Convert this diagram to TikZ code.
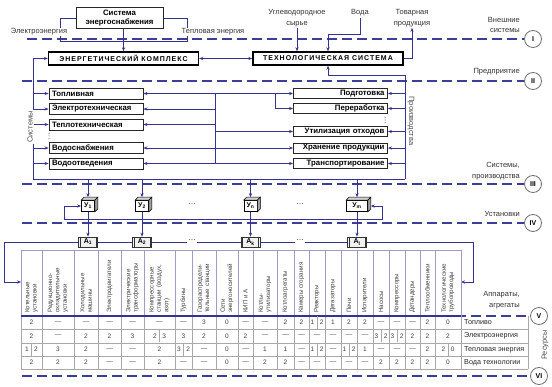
\documentclass[tikz,border=0pt]{standalone}
\usepackage{fontspec}
\setmainfont{Liberation Sans}
\newfontfamily\capsfont[LetterSpace=14]{Liberation Sans}
\usetikzlibrary{arrows.meta,positioning,calc}
\definecolor{flowblue}{HTML}{34348F}
\definecolor{levblue}{HTML}{3C3C9A}
\definecolor{ringgrey}{HTML}{707070}
\definecolor{gridgrey}{HTML}{A8A8A8}
\definecolor{hdrline}{HTML}{9C9CC4}
\definecolor{txtgrey}{HTML}{404040}

\begin{document}
\begin{tikzpicture}[x=1pt, y=-1pt,
  font=\fontsize{7.5}{10.5}\selectfont,
  flow/.style={draw=flowblue, line width=0.9pt},
  arr/.style={flow, -{Stealth[length=4pt, width=3.2pt]}},
  darr/.style={flow, {Stealth[length=4pt, width=3.2pt]}-{Stealth[length=4pt, width=3.2pt]}},
  lvl/.style={draw=levblue, line width=1.2pt, dash pattern=on 10pt off 5pt},
  ring/.style={circle, draw=ringgrey, line width=0.8pt, fill=white, minimum size=17pt,
               inner sep=0pt, font=\bfseries\fontsize{7}{8}\selectfont},
  lbl/.style={text=black!80, inner sep=1pt, align=center},
  lvllbl/.style={text=black!80, inner sep=1pt, align=right, anchor=east},
  supbox/.style={draw=black!85, line width=1pt, fill=white, minimum width=87pt,
                 minimum height=21pt, align=center, inner sep=1pt,
                 font=\bfseries\fontsize{7.8}{9.5}\selectfont},
  bigbox/.style={draw=black, line width=1.4pt, fill=white, minimum width=150pt,
                 minimum height=13pt, inner sep=0pt,
                 font=\capsfont\bfseries\fontsize{7}{8}\selectfont},
  sysbox/.style={draw=black!85, line width=0.9pt, fill=white, minimum width=94pt,
                 minimum height=11pt, text width=88pt, align=left, inner xsep=3pt,
                 inner ysep=0pt, font=\bfseries\fontsize{7.8}{9}\selectfont},
  prodbox/.style={sysbox, minimum height=10pt, align=right},
  unitbox/.style={draw=black, line width=0.7pt, fill=white, minimum width=13pt,
                  minimum height=11pt, inner sep=0pt, font=\bfseries\fontsize{7}{8}\selectfont},
  agrbox/.style={draw=black!80, line width=0.7pt, fill=gray!12, minimum width=19pt,
                 minimum height=10pt, inner sep=0pt, font=\bfseries\fontsize{7}{8}\selectfont},
  hdr/.style={rotate=90, anchor=west, align=left, inner sep=0pt, text=txtgrey,
              font=\fontsize{6.2}{7.4}\selectfont},
  val/.style={inner sep=0pt, text=txtgrey, font=\fontsize{6.5}{7}\selectfont},
  res/.style={anchor=west, inner sep=0pt, text=black!85, font=\fontsize{7.2}{8}\selectfont},
  vdot/.style={fill=black!80},
]

\def\dcell#1#2{#1\hspace{2.4pt}{\color{gridgrey}\vrule width 0.7pt height 9pt depth 4pt}\hspace{2.4pt}#2}
\def\nodat{\textemdash}

\useasboundingbox (0,0) rectangle (552,387);

% ---------------- levels I--VI ---------------------------------------
\foreach \i/\num/\xs/\yy/\xr in {1/I/27/39/533, 2/II/22/81/533, 3/III/22/184/533,
                                 4/IV/22/223/533, 5/V/21/316/539, 6/VI/22/376/539}{
  \coordinate (lv\i) at (\xs,\yy);
  \node[ring] (ring\i) at (\xr,\yy) {\num};
  \draw[lvl] (lv\i) -- (ring\i);
}
\node[lvllbl] (extlbl) at (521,25)  {Внешние\\системы};
\node[lvllbl] (entlbl) at (521,72)  {Предприятие};
\node[lvllbl] (sprlbl) at (521,171) {Системы,\\производства};
\node[lvllbl] (unilbl) at (521,214) {Установки};
\node[lvllbl] (aprlbl) at (521,300) {Аппараты,\\агрегаты};

% ---------------- external supply and the two complexes --------------
\node[supbox] (ses) at (119.5,18) {Система\\энергоснабжения};
\node[bigbox] (ek) at (123.5,58.5) {ЭНЕРГЕТИЧЕСКИЙ КОМПЛЕКС};
\node[bigbox] (ts) at (328,58.5) {ТЕХНОЛОГИЧЕСКАЯ СИСТЕМА};

\coordinate (sj) at ($(ek.north)+(0,-10)$);
\draw[flow] (ses.south -| sj) -- (sj);
\draw[flow] (ses.west) -- ++(-15,0) |- (sj);
\draw[flow] (ses.east) -- ++(24,0) |- (sj);
\draw[arr] (sj) -- (ek.north);
\node[lbl, fill=white] (elec) at (39,32) {Электроэнергия};
\node[lbl, fill=white] (heat) at (213,32) {Тепловая энергия};

\draw[darr] (ek) -- (ts);

\node[lbl] (raw)   at (297,18) {Углеводородное\\сырье};
\node[lbl] (water) at (360,13) {Вода};
\node[lbl] (prod)  at (412,18) {Товарная\\продукция};
\draw[arr] (raw.south) -- (raw.south |- ts.north);
\draw[arr] (water.south) |- ($(ts.north)+(0,-17)$) -- (ts.north);
\draw[arr] (ts.east) -| (prod.south);

% ---------------- systems and productions -----------------------------
\foreach \n/\yy/\txt in {top/93.5/Топливная, elt/109/Электротехническая,
                         tpt/124.5/Теплотехническая, vsn/148/Водоснабжения,
                         vot/163.5/Водоотведения}
  \node[sysbox] (\n) at (96,\yy) {\txt};
\foreach \n/\yy/\txt in {pod/93.5/Подготовка, per/108.5/Переработка,
                         uti/131.5/Утилизация отходов, hra/148/Хранение продукции,
                         tra/163.5/Транспортирование}
  \node[prodbox] (\n) at (340.5,\yy) {\txt};

\coordinate (fl) at (33,179);
\coordinate (fr) at (405,179);
\draw[arr] (fl) |- (ek.west);
\draw[flow] (fl) -- (fr);
\draw[arr] (fr) |- ($(ts.south)+(0,10)$) -- (ts.south);
\foreach \n in {top,elt,tpt,vsn,vot}
  \draw[arr] (\n.west -| fl) -- (\n.west);
\foreach \n in {pod,per,uti,hra,tra}
  \draw[arr] (\n.east -| fr) -- (\n.east);

% internal distribution between the two columns
\coordinate (nt) at (215,93.5);
\coordinate (nb) at (215,163.5);
\draw[flow] (nt) -- (nb);
\foreach \n in {top,elt,tpt,vsn,vot}
  \draw[arr] (\n.east -| nt) -- (\n.east);
\foreach \n in {pod,uti,hra,tra}
  \draw[arr] (\n.west -| nt) -- (\n.west);
\draw[arr] ($(nt)+(60,0)$) |- (per.west);

% the lists go on
\foreach \yy in {133.5,136,138.5}
  \fill[vdot] (49,\yy) circle (0.5pt);
\foreach \yy in {117.5,120,122.5}
  \fill[vdot] (385,\yy) circle (0.5pt);
\node[lbl, fill=white, rotate=90, text=black!70] (syslbl) at (30,127) {Системы};
\node[lbl, rotate=-90, text=black!70] (prlbl) at (411,121) {Производства};

% ---------------- units ---------------------------------------------
\foreach \n/\xx/\sub/\w in {y1/88/1/13, y2/142/2/13, yn/250.5/n/13, ym/357/m/21}
  \node[unitbox, minimum width=\w pt] (\n) at (\xx,206) {У\textsubscript{\sub}};
\foreach \n in {y1,y2,yn,ym}{
  \filldraw[fill=gray!35, draw=black, line width=0.5pt] (\n.north west) -- ++(3,-3)
    -- ([shift={(3,-3)}]\n.north east) -- (\n.north east) -- cycle;
  \filldraw[fill=gray!75, draw=black, line width=0.5pt] (\n.north east) -- ++(3,-3)
    -- ([shift={(3,-3)}]\n.south east) -- (\n.south east) -- cycle;
  \draw[arr] (\n.north |- fl) -- ([yshift=3pt]\n.north);
}
\node[inner sep=1pt] (ydots1) at (192,204) {\dots};
\node[inner sep=1pt] (ydots2) at (300,204) {\dots};
\draw[darr] (y1.west) -- ++(-17,0) |- ($(ym.east)+(15,13)$) |- ([xshift=3pt]ym.east);

% ---------------- apparatus -----------------------------------------
\foreach \n/\xx/\sub in {a1/88/1, a2/142/2, ak/250.5/k, al/357/l}{
  \node[agrbox] (\n) at (\xx,242) {А\textsubscript{\sub}};
  \draw[black!80, line width=0.6pt] ([xshift=2pt]\n.north west) -- ([xshift=2pt]\n.south west)
    ([xshift=-2pt]\n.north east) -- ([xshift=-2pt]\n.south east);
}
\foreach \u/\a in {y1/a1, y2/a2, yn/ak, ym/al}
  \draw[arr] (\u.south) -- (\a.north);
\node[inner sep=1pt] (adots1) at (192,240) {\dots};
\node[inner sep=1pt] (adots2) at (300,240) {\dots};
\draw[flow] (a1.east) -- (a2.west) (a2.east) -- (a2.east -| adots1.west)
  (ak.west -| adots1.east) -- (ak.west) (ak.east) -- (ak.east -| adots2.west)
  (al.west -| adots2.east) -- (al.west);

\coordinate (tl) at (4,242);
\coordinate (tr) at (473,242);
\coordinate (tabL) at (21,282);
\coordinate (tabR) at (461,282);
\draw[arr] (a1.west) -- (tl) |- (tabL);
\draw[arr] (al.east) -- (tr) |- (tabR);

% ---------------- resource table ------------------------------------
\draw[hdrline, line width=0.7pt] (21,250) -- (461,250);
\foreach \x in {21,42,74,98,121,144,175,192,216,238,253,277,294,309,325,341,357,373,389,405,420,435,461}{
  \draw[hdrline, line width=0.7pt] (\x,250) -- (\x,316);
  \draw[gridgrey, line width=0.7pt] (\x,316) -- (\x,369);
}
\foreach \y in {329,343,356,369}
  \draw[gridgrey, line width=0.7pt] (21,\y) -- (528,\y);
\draw[gridgrey, line width=0.7pt] (528,316) -- (528,369);
\draw[flowblue, line width=1.2pt] (21,316) -- (461,316);

\foreach \cx/\txt [count=\k] in {31.5/{Котельные\\установки}, 58/{Редукционно-\\охладительные\\установки},
    86/{Холодильные\\машины}, 109.5/{Электродвигатели}, 132.5/{Электрические\\трансформаторы},
    159.5/{Компрессорные\\станции (воздух,\\азот)}, 183.5/{Турбины},
    204/{Газораспредели-\\тельные станции}, 227/{Сети\\энергоносителей}, 245.5/{КИП и А},
    265/{Котлы-\\утилизаторы}, 285.5/{Котлоагрегаты}, 301.5/{Камеры сгорания},
    317/{Реакторы}, 333/{Дегазаторы}, 349/{Печи}, 365/{Испарители}, 381/{Насосы},
    397/{Компрессоры}, 412.5/{Детандеры}, 427.5/{Теплообменники},
    448/{Технологические\\трубопроводы}}
  \node[hdr] (hdr\k) at (\cx,313) {\txt};

\foreach \cx/\va/\vb/\vc/\vd [count=\k] in {
    31.5/2/2/\dcell12/2, 58/\nodat/\nodat/3/2, 86/\nodat/2/2/2,
    109.5/\nodat/2/\nodat/\nodat, 132.5/\nodat/3/\nodat/\nodat,
    159.5/\nodat/\dcell23/2/2, 183.5/\nodat/3/\dcell32/\nodat,
    204/3/2/\nodat/\nodat, 227/0/0/0/0, 245.5/\nodat/2/\nodat/\nodat,
    265/\nodat/\nodat/1/2, 285.5/2/\nodat/1/2, 301.5/2/\nodat/\nodat/\nodat,
    317/\dcell12/\nodat/\dcell12/\nodat, 333/1/\nodat/\nodat/\nodat,
    349/2/\nodat/\dcell12/\nodat, 365/2/\nodat/1/\nodat,
    381/\nodat/\dcell32/\nodat/2, 397/\nodat/\dcell32/\nodat/2,
    412.5/\nodat/2/\nodat/2, 427.5/2/2/2/2, 448/0/2/\dcell20/0}{
  \node[val] (va\k) at (\cx,322.5) {\va};
  \node[val] (vb\k) at (\cx,336) {\vb};
  \node[val] (vc\k) at (\cx,349.5) {\vc};
  \node[val] (vd\k) at (\cx,362.5) {\vd};
}

\foreach \yy/\txt [count=\k] in {322.5/Топливо, 336/Электроэнергия,
                                 349.5/Тепловая энергия, 362.5/Вода технологии}
  \node[res] (res\k) at (464,\yy) {\txt};
\node[lbl, rotate=90, text=black!70] (reslbl) at (545,345) {Ресурсы};

\end{tikzpicture}
\end{document}
